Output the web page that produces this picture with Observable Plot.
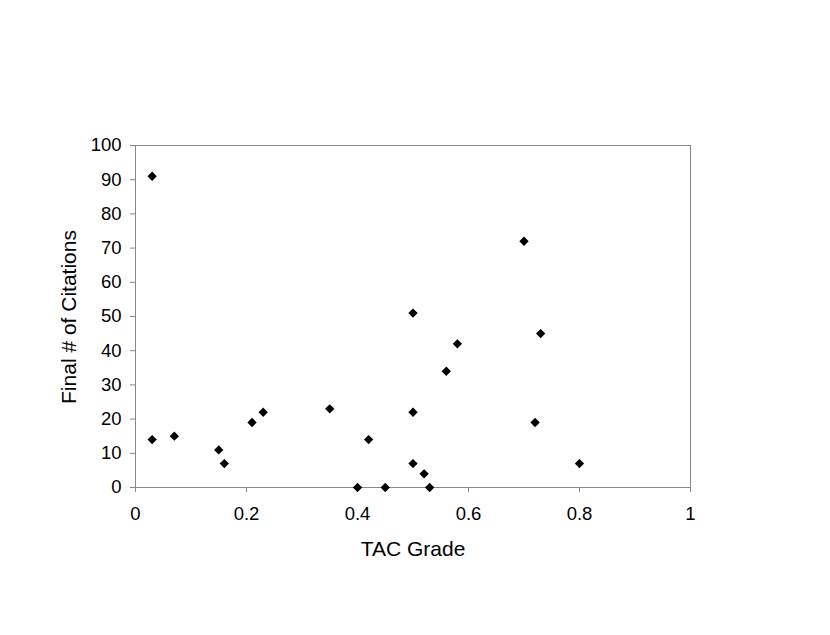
<!DOCTYPE html>
<html><head><meta charset="utf-8">
<script src="https://cdn.jsdelivr.net/npm/d3@7"></script>
<script src="https://cdn.jsdelivr.net/npm/@observablehq/plot@0.6"></script>
<style>body{margin:0;background:#fff;} svg{display:block;}</style>
</head><body><div id="chart"></div>
<script>
const tacGrade = [0.03,0.03,0.07,0.15,0.16,0.21,0.23,0.35,0.40,0.42,0.45,0.50,0.50,0.50,0.52,0.53,0.56,0.58,0.70,0.72,0.73,0.80];
const citations = [91,14,15,11,7,19,22,23,0,14,0,51,22,7,4,0,34,42,72,19,45,7];
const xTicks = [0,0.2,0.4,0.6,0.8,1];
const yTicks = [0,10,20,30,40,50,60,70,80,90,100];
const data = tacGrade.map((x,i)=>({x, y: citations[i]}));

const chart = Plot.plot({
  width: 830, height: 635,
  marginLeft: 135, marginRight: 140, marginTop: 145, marginBottom: 148,
  style: {fontFamily: "'Liberation Sans', Arial, sans-serif", fontSize: "18.5px", background: "#fff"},
  x: {domain: [0,1], ticks: xTicks, label: null},
  y: {domain: [0,100], ticks: yTicks, label: null},
  marks: [
    Plot.frame({stroke: "#888", strokeWidth: 1}),
    Plot.axisX(xTicks, {tickSize: 5, stroke: "#888", tickFormat: d => String(d), fill: "#000", tickPadding: 14}),
    Plot.axisY(yTicks, {tickSize: 5, stroke: "#888", fill: "#000", tickPadding: 9}),
    Plot.dot(data, {x: "x", y: "y", symbol: "diamond2", r: 4.2, fill: "#000", stroke: null})
  ]
});
const svg = d3.select(chart);
svg.append("text").attr("x", 413).attr("y", 556).attr("text-anchor","middle")
  .attr("font-size", 21).attr("font-family","'Liberation Sans', Arial, sans-serif").text("TAC Grade");
svg.append("text").attr("transform","translate(76,317) rotate(-90)").attr("text-anchor","middle")
  .attr("font-size", 21).attr("font-family","'Liberation Sans', Arial, sans-serif").text("Final # of Citations");
document.getElementById("chart").appendChild(chart);
</script></body></html>
